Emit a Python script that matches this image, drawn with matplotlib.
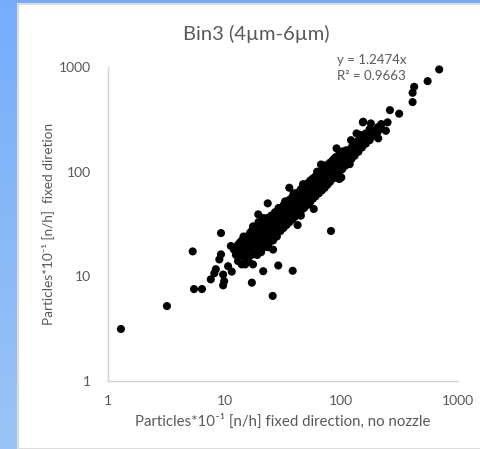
import numpy as np
import matplotlib.pyplot as plt
from matplotlib.patches import Rectangle

plt.rcParams['font.family'] = ['Lato', 'DejaVu Sans']

# ---- data -------------------------------------------------------------
title = "Bin3 (4\u00b5m-6\u00b5m)"
x_label = "Particles*10\u207b\u00b9 [n/h] fixed direction, no nozzle"
y_label = "Particles*10\u207b\u00b9 [n/h]  fixed diretion"
tick_values = [1, 10, 100, 1000]
tick_labels = ["1", "10", "100", "1000"]
slope = 1.2474
r_squared = 0.9663

# isolated measurements away from the main band
x_sparse = [1.29, 3.2, 5.46, 6.39, 5.32, 9.3, 11.3, 9.3, 9.0, 8.4, 8.15, 7.6,
            9.7, 9.9, 9.7, 10.7, 11.5, 17.1, 21.4, 25.8, 28.8, 38.3, 42.2,
            81.5, 19.4, 23.4, 35.8, 66.9, 91, 121, 135, 154, 153, 179, 211,
            207, 241, 249, 261, 313, 408, 408, 421, 549, 690]
y_sparse = [3.14, 5.2, 7.56, 7.56, 17.3, 25.9, 19.5, 16.2, 14.5, 11.7, 10.7,
            9.36, 10.4, 9.0, 8.2, 12.5, 11.1, 8.7, 11.2, 6.5, 12.7, 11.3, 30.9,
            27.1, 39.1, 49.8, 70.2, 117, 167, 200, 232, 300, 296, 289, 268,
            208, 246, 296, 387, 358, 462, 567, 647, 733, 948]

# main band of paired measurements
x_band = [13, 13, 13, 14, 14, 14, 14, 15, 15, 15, 16, 16, 16, 16,
          17, 17, 17, 17, 18, 18, 18, 19, 19, 19, 19, 20, 20, 20, 20,
          21, 21, 21, 22, 22, 22, 22, 23, 23, 23, 23, 24, 24, 24, 24,
          25, 25, 25, 25, 26, 26, 26, 26, 27, 27, 27, 27, 28, 28, 28, 28,
          30, 30, 30, 30, 32, 32, 32, 32, 34, 34, 34, 34, 36, 36, 36, 36,
          38, 38, 38, 38, 40, 40, 40, 40, 42, 42, 42, 42, 45, 45, 45, 45, 45,
          48, 48, 48, 48, 51, 51, 51, 51, 54, 54, 54, 54, 57, 57, 57, 57,
          60, 60, 60, 60, 64, 64, 64, 64, 68, 68, 68, 68, 72, 72, 72, 72,
          76, 76, 76, 76, 80, 80, 80, 80, 85, 85, 85, 85, 90, 90, 90, 90,
          96, 96, 96, 96, 96, 102, 102, 102, 102, 108, 108, 108,
          115, 115, 115, 122, 122, 122, 130, 130, 130, 140, 140, 140,
          150, 150, 150, 162, 162, 162, 175, 175, 175, 190, 190, 205, 205,
          220, 220, 14.5, 16.5, 18.5, 24, 29, 33, 39, 47, 55, 62, 70, 88,
          110, 125, 145, 118, 100, 58, 26, 17.5,
          12.5, 13.5, 15.5, 17.5, 19.5, 21.5, 12, 15, 20.5, 23.5]
y_band = [14, 17, 20, 13, 16, 19, 22, 15, 18, 21, 14, 17, 20, 24,
          16, 19, 23, 27, 17, 21, 25, 16, 20, 24, 28, 18, 22, 26, 31,
          20, 25, 29, 19, 23, 27, 33, 22, 26, 31, 36, 21, 25, 30, 34,
          24, 28, 33, 38, 22, 27, 32, 37, 25, 30, 35, 41, 24, 29, 34, 40,
          27, 32, 38, 44, 29, 35, 41, 48, 31, 37, 43, 50, 33, 40, 46, 54,
          35, 42, 49, 57, 37, 44, 52, 60, 40, 47, 55, 63, 38, 42, 50, 58, 68,
          45, 54, 62, 72, 48, 57, 66, 77, 51, 61, 70, 82, 55, 65, 75, 86,
          58, 68, 79, 90, 62, 73, 84, 97, 66, 78, 90, 103, 70, 83, 96, 110,
          75, 88, 101, 116, 80, 93, 107, 122, 86, 100, 114, 130, 92, 106, 122, 138,
          85, 98, 113, 130, 147, 106, 121, 138, 156, 114, 130, 147,
          122, 140, 158, 132, 150, 170, 142, 162, 184, 155, 176, 198,
          170, 190, 214, 185, 206, 232, 200, 225, 255, 220, 245, 240, 265,
          258, 285, 24, 26, 29, 36, 45, 52, 62, 76, 83, 100, 115, 135,
          160, 175, 225, 118, 88, 44, 18, 13,
          16, 21, 24, 30, 33, 36, 18, 13, 17, 19]

# ---- figure -----------------------------------------------------------
W, H = 481, 449
fig = plt.figure(figsize=(W / 100, H / 100), dpi=100)

# blue backdrop with a soft vertical gradient
bg = fig.add_axes([0, 0, 1, 1])
grad = np.linspace(0, 1, 256).reshape(-1, 1)
top_c = np.array([0.46, 0.68, 0.99])
bot_c = np.array([0.60, 0.77, 0.96])
img = top_c * (1 - grad[..., None]) + bot_c * grad[..., None]
bg.imshow(img, aspect='auto', extent=[0, 1, 0, 1], origin='upper')
# white chart panel with a light frame
bg.add_patch(Rectangle((18 / W, 0), 1, 1 - 4 / H, facecolor='white',
                       edgecolor='#dcdcdc', linewidth=1.5))
bg.set_xlim(0, 1)
bg.set_ylim(0, 1)
bg.axis('off')

ax = fig.add_axes([108 / W, 68 / H, 350 / W, 314 / H])
ax.set_xscale('log')
ax.set_yscale('log')
ax.set_xlim(1, 1000)
ax.set_ylim(1, 1000)
ax.set_facecolor('none')

ax.scatter(x_band, y_band, s=34, color='black', edgecolors='none', zorder=3,
           clip_on=False)
ax.scatter(x_sparse, y_sparse, s=34, color='black', edgecolors='none', zorder=3,
           clip_on=False)

for side in ('top', 'right'):
    ax.spines[side].set_visible(False)
for side in ('left', 'bottom'):
    ax.spines[side].set_color('#d0d0d0')
    ax.spines[side].set_linewidth(1.0)

ax.set_xticks(tick_values)
ax.set_xticklabels(tick_labels)
ax.set_yticks(tick_values)
ax.set_yticklabels(tick_labels)
ax.minorticks_off()
ax.tick_params(axis='both', length=0, labelsize=10, labelcolor='#595959')
ax.tick_params(axis='x', pad=10)
ax.tick_params(axis='y', pad=12)

ax.set_xlabel(x_label, fontsize=10.8, color='#595959', labelpad=5)
ax.set_ylabel(y_label, fontsize=9.8, color='#595959', labelpad=4)

fig.text(256 / W, 1 - 34 / H, title, ha='center', va='center',
         fontsize=14.5, color='#595959')

ax.text(337 / W, 1 - 60 / H, f"y = {slope:.4f}x", transform=fig.transFigure,
        ha='left', va='center', fontsize=9.5, color='#595959')
ax.text(337 / W, 1 - 76 / H, f"R\u00b2 = {r_squared:.4f}", transform=fig.transFigure,
        ha='left', va='center', fontsize=9.5, color='#595959')

fig.savefig('out.png', dpi=100)
